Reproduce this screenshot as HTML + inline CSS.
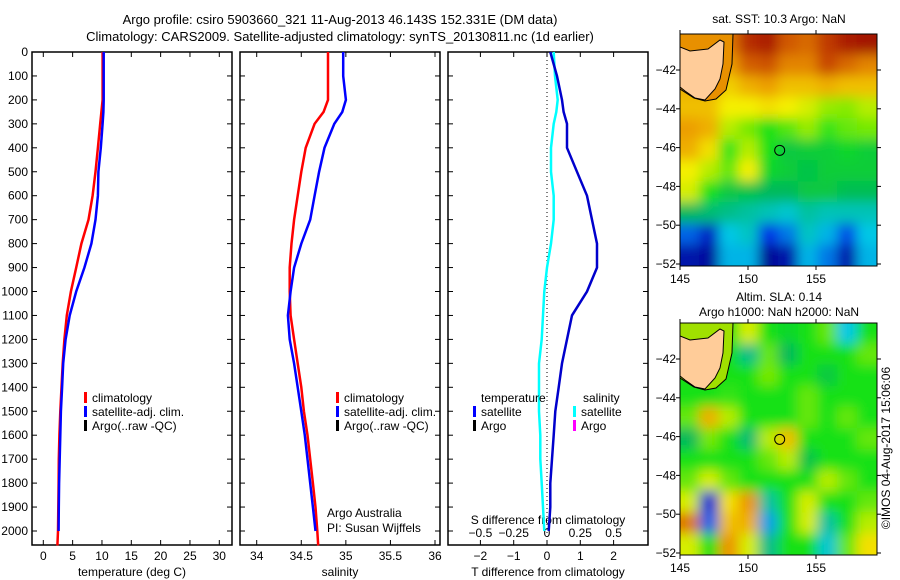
<!DOCTYPE html>
<html><head><meta charset="utf-8"><style>
body{margin:0;background:#fff}
svg{display:block;font-family:"Liberation Sans",sans-serif;font-size:12px}
</style></head><body>
<svg id="c" width="900" height="580" xmlns="http://www.w3.org/2000/svg">
<text x="340" y="24" text-anchor="middle" font-size="13">Argo profile: csiro 5903660_321 11-Aug-2013 46.143S 152.331E (DM data)</text>
<text x="340" y="41" text-anchor="middle" font-size="13">Climatology: CARS2009. Satellite-adjusted climatology: synTS_20130811.nc (1d earlier)</text>
<g id="g"></g>
<text transform="translate(890,448) rotate(-90)" text-anchor="middle" font-size="12">©IMOS 04-Aug-2017 15:06:06</text>
</svg>
<script>
const depths=[0,100,200,250,300,400,500,600,700,800,900,1000,1100,1200,1300,1400,1500,1600,1700,1800,1900,2000,2060];
const tempClim=[10.1,10.1,10.1,9.9,9.7,9.3,8.9,8.4,7.7,6.5,5.6,4.7,4.0,3.6,3.3,3.1,2.9,2.75,2.65,2.6,2.55,2.5,2.4];
const tempSat=[10.3,10.3,10.3,10.25,10.1,9.8,9.4,9.3,8.9,8.2,7.0,5.6,4.5,3.8,3.4,3.2,3.0,2.9,2.8,2.7,2.65,2.6,null];
const salClim=[34.80,34.80,34.80,34.75,34.65,34.55,34.5,34.46,34.42,34.39,34.37,34.37,34.38,34.42,34.46,34.50,34.53,34.57,34.60,34.63,34.66,34.68,34.69];
const salSat=[34.97,34.97,35.0,34.96,34.87,34.76,34.7,34.65,34.6,34.5,34.42,34.38,34.35,34.37,34.42,34.46,34.5,34.54,34.57,34.6,34.63,34.66,null];
const tDiff=[0.1,0.3,0.45,0.5,0.6,0.6,0.9,1.2,1.35,1.5,1.5,1.2,0.75,0.6,0.45,0.35,0.25,0.2,0.15,0.1,0.1,0.05,null];
const sDiff=[0.05,0.06,0.08,0.07,0.05,0.03,0.03,0.05,0.05,0.03,0.0,-0.02,-0.03,-0.04,-0.06,-0.06,-0.06,-0.05,-0.05,-0.04,-0.03,-0.02,null];
const depthTicks=[0,100,200,300,400,500,600,700,800,900,1000,1100,1200,1300,1400,1500,1600,1700,1800,1900,2000];
const tempTicks=[0,5,10,15,20,25,30];
const salTicks=[34,34.5,35,35.5,36];
const tdTicks=[-2,-1,0,1,2];
const sdTicks=[-0.5,-0.25,0,0.25,0.5];
const sstGrid=[
[.76,.76,.8,.92,.95,.85,.82,.9,.95,.97],
[.74,.74,.74,.84,.86,.78,.78,.88,.82,.78],
[.72,.72,.68,.72,.74,.7,.7,.72,.7,.7],
[.7,.7,.64,.64,.66,.64,.62,.58,.57,.6],
[.74,.72,.6,.56,.5,.54,.58,.52,.55,.56],
[.72,.66,.52,.6,.5,.45,.46,.46,.48,.46],
[.64,.6,.55,.64,.48,.46,.44,.46,.46,.46],
[.62,.5,.45,.44,.42,.42,.45,.45,.43,.43],
[.42,.4,.38,.36,.34,.32,.36,.34,.34,.34],
[.2,.1,.3,.33,.15,.22,.33,.28,.18,.3],
[.06,.04,.28,.28,.03,.06,.28,.22,.06,.28]];
const slaGrid=[
[.5,.5,.5,.62,.5,.48,.5,.55,.3,.5],
[.5,.5,.5,.38,.55,.42,.5,.5,.5,.55],
[.5,.5,.5,.5,.56,.5,.5,.45,.5,.5],
[.5,.5,.52,.5,.5,.5,.55,.5,.5,.5],
[.55,.72,.6,.5,.5,.5,.55,.5,.55,.5],
[.42,.56,.5,.4,.6,.7,.5,.5,.5,.55],
[.5,.5,.5,.5,.55,.6,.44,.5,.5,.5],
[.55,.62,.55,.5,.5,.5,.5,.6,.55,.5],
[.62,.12,.66,.75,.36,.5,.62,.5,.5,.55],
[.8,.2,.7,.72,.26,.5,.62,.36,.5,.6],
[.62,.5,.75,.62,.38,.5,.5,.32,.55,.66]];
const NS="http://www.w3.org/2000/svg";
const G=document.getElementById('g');
function mk(t,a,p){const e=document.createElementNS(NS,t);for(const k in a)e.setAttribute(k,a[k]);(p||G).appendChild(e);return e;}
const PT=52,PB=545;
const yD=d=>PT+d*(531-PT)/2000;
const xT=v=>43.3+v*(219.3-43.3)/30;
const xS=v=>256.7+(v-34)*(435-256.7)/2;
const xTD=v=>547+v*33.3;
const xSD=v=>547+v*133.2;
function axes(x0,x1,name){
  const r=mk('rect',{x:x0,y:PT,width:x1-x0,height:PB-PT,fill:'none',stroke:'#000','stroke-width':1.5});
  
  
  depthTicks.forEach(d=>{mk('line',{x1:x0,x2:x0+5,y1:yD(d),y2:yD(d),stroke:'#000'});mk('line',{x1:x1,x2:x1-5,y1:yD(d),y2:yD(d),stroke:'#000'});});
}
axes(32,232,'temperature-axes');axes(240,440,'salinity-axes');axes(448,648,'difference-axes');
depthTicks.forEach(d=>{const t=mk('text',{x:28,y:yD(d)+4,'text-anchor':'end'});t.textContent=d;

});
function xticks(vals,fx,y,lab){vals.forEach(v=>{const x=fx(v);mk('line',{x1:x,x2:x,y1:PB,y2:PB-5,stroke:'#000'});mk('line',{x1:x,x2:x,y1:PT,y2:PT+5,stroke:'#000'});
const t=mk('text',{x:x,y:y,'text-anchor':'middle'});t.textContent=(v<0?'\u2212'+(-v):v);

});}
xticks(tempTicks,xT,560,'temperature-tick-label');
xticks(salTicks,xS,560,'salinity-tick-label');
xticks(tdTicks,xTD,560,'t-diff-tick-label');
sdTicks.forEach(v=>{const t=mk('text',{x:xSD(v),y:537,'text-anchor':'middle'});t.textContent=(v<0?'\u2212'+(-v):v);

});
function lbl(x,y,s,n,anchor){const t=mk('text',{x:x,y:y,'text-anchor':anchor||'middle'});t.textContent=s;

return t;}
lbl(132,576,'temperature (deg C)','temperature-axis-title');
lbl(340,576,'salinity','salinity-axis-title');
lbl(548,576,'T difference from climatology','t-diff-axis-title');
lbl(548,524,'S difference from climatology','s-diff-axis-title');
lbl(327,517,'Argo Australia','credit-line1','start');
lbl(327,532,'PI: Susan Wijffels','credit-line2','start');
mk('line',{x1:547,x2:547,y1:PT,y2:PB,stroke:'#000','stroke-dasharray':'1,3'});
function stepLine(vals,fx,color,name){let d='';let started=false;
  for(let i=0;i<depths.length;i++){if(vals[i]==null)continue;const x=fx(vals[i]).toFixed(1),y=yD(depths[i]).toFixed(1);d+=(started?'L':'M')+x+','+y;started=true;}
  const p=mk('path',{d:d,fill:'none',stroke:color,'stroke-width':2.5});
  
  }
stepLine(tempClim,xT,'#f00','temp-climatology-line');
stepLine(tempSat,xT,'#00f','temp-satellite-line');
stepLine(salClim,xS,'#f00','sal-climatology-line');
stepLine(salSat,xS,'#00f','sal-satellite-line');
stepLine(sDiff,xSD,'#0ff','s-diff-satellite-line');
stepLine(tDiff,xTD,'#00c','t-diff-satellite-line');
function leg(x,y,c,s,n){mk('rect',{x:x,y:y-10,width:3,height:11,fill:c});lbl(x+8,y,s,n,'start');}
[84,336].forEach(x=>{leg(x,402,'#f00','climatology','legend-climatology');leg(x,416,'#00f','satellite-adj. clim.','legend-satellite-adj');leg(x,430,'#000','Argo(..raw -QC)','legend-argo');});
lbl(481,402,'temperature','legend-temperature-header','start');
leg(473,416,'#00f','satellite','legend-t-satellite');leg(473,430,'#000','Argo','legend-t-argo');
lbl(583,402,'salinity','legend-salinity-header','start');
leg(573,416,'#0ff','satellite','legend-s-satellite');leg(573,430,'#f0f','Argo','legend-s-argo');
const stops=[[0,[0,0,130]],[0.15,[0,50,230]],[0.3,[0,200,230]],[0.42,[0,185,90]],[0.5,[20,225,25]],[0.58,[150,235,0]],[0.64,[245,240,0]],[0.75,[235,150,0]],[0.88,[200,70,0]],[1,[150,0,0]]];
function cmap(v){for(let i=1;i<stops.length;i++){if(v<=stops[i][0]){const a=stops[i-1],b=stops[i],t=(v-a[0])/(b[0]-a[0]);return 'rgb('+a[1].map((c,k)=>Math.round(c+(b[1][k]-c)*t)).join(',')+')';}}return 'rgb(150,0,0)';}
function map(grid,x0,y0,w,h,lat42,lat52,name,id,contourFill){
  const cl=mk('clipPath',{id:id});mk('rect',{x:x0,y:y0,width:w,height:h},cl);
  const f=mk('filter',{id:id+'f',filterUnits:'userSpaceOnUse',x:x0-40,y:y0-40,width:w+80,height:h+80});mk('feGaussianBlur',{stdDeviation:6},f);
  const g=mk('g',{'clip-path':`url(#${id})`});
  
  
  const gi=mk('g',{filter:`url(#${id}f)`},g);
  const R=grid.length,C=grid[0].length,cw=w/C,ch=h/R;
  grid.forEach((row,i)=>row.forEach((v,j)=>{
    const ex=(j==0?-30:0),ey=(i==0?-30:0),ew=(j==C-1?30:0)-ex,eh=(i==R-1?30:0)-ey;
    mk('rect',{x:x0+j*cw+ex-0.5,y:y0+i*ch+ey-0.5,width:cw+ew+1,height:ch+eh+1,fill:cmap(v)},gi);}));
  const P=pts=>'M'+pts.map(p=>(x0+p[0])+','+(y0+p[1])).join('L')+'Z';
  mk('path',{d:P([[0,0],[53,0],[52,30],[46,56],[36,65],[25,67],[14,64],[0,55]]),fill:contourFill,stroke:'#000'},g);
  mk('path',{d:P([[0,13],[10,17],[28,15],[40,6],[44,8],[43,30],[40,45],[35,55],[25,66],[15,64],[5,57],[0,53]]),fill:'#ffcc99',stroke:'#000'},g);
  const yl=l=>lat42+(l+42)*(lat52-lat42)/(-10);
  const xl=l=>x0+(l-145)*13.6;
  const c=mk('circle',{cx:xl(152.33),cy:yl(-46.14),r:5,fill:'none',stroke:'#000'});
  
  
  mk('rect',{x:x0,y:y0,width:w,height:h,fill:'none',stroke:'#000'});
  [145,150,155].forEach(l=>{const x=xl(l);mk('line',{x1:x,x2:x,y1:y0+h,y2:y0+h+4,stroke:'#000'});mk('line',{x1:x,x2:x,y1:y0,y2:y0-4,stroke:'#000'});lbl(x,y0+h+17,l,'lon-tick-label');});
  [-42,-44,-46,-48,-50,-52].forEach(l=>{const y=yl(l);mk('line',{x1:x0,x2:x0-4,y1:y,y2:y,stroke:'#000'});mk('line',{x1:x0+w,x2:x0+w+4,y1:y,y2:y,stroke:'#000'});lbl(x0-4,y+4,'\u2212'+(-l),'lat-tick-label','end');});
}
map(sstGrid,680,34,197,232,70,264,'sst-map','m1','#e89000');
map(slaGrid,680,323,197,232,359,553,'sla-map','m2','#a0e000');
lbl(779,23,'sat. SST: 10.3 Argo: NaN','sst-map-title');
lbl(779,301,'Altim. SLA: 0.14','sla-map-title');
lbl(779,316,'Argo h1000: NaN h2000: NaN','sla-map-subtitle');
</script>
</body></html>
